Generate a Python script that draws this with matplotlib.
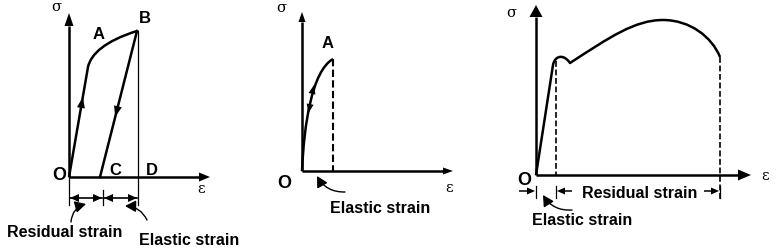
import numpy as np
import matplotlib
matplotlib.use('Agg')
import matplotlib.pyplot as plt
from matplotlib.path import Path
from matplotlib.patches import PathPatch, FancyArrowPatch

# Everything lives in picture pixels (x right, y down), three small schematics.

#######################################################

# Left: loading / unloading  O -> A -> B -> C
p1_origin = (69, 178)
p1_y_tip = (69, 14)
p1_x_tip = (210, 178)
p1_knee = [(88, 68), (91, 55), (105, 42), (137, 32)]   # bezier, knee -> B
p1_C = (100, 178)
p1_D_x = 138
p1_dim_y = 199
p1_dim_x = [69, 103, 138]

# Middle: purely elastic
p2_origin = (302, 172)
p2_y_tip = (302, 13)
p2_x_tip = (453, 172)
p2_curve = [(302, 172), (304, 125), (312, 72), (333, 60)]   # bezier, O -> A

# Right: full tensile curve
p3_origin = (536, 176)
p3_y_tip = (536, 6)
p3_x_tip = (751, 176)
p3_yield = (553, 66)
p3_bump = [(555, 56), (564, 55), (570, 64)]
p3_rise = [(610, 38), (635, 21), (663, 21)]
p3_fall = [(690, 21), (712, 38), (720, 58)]
p3_dim_y = 192
p3_dim_x = [536, 556, 720]

labels = [
    # text, x, baseline y, size
    ('A', 99, 39, 12), ('B', 145, 23, 12),
    ('C', 115, 175, 12), ('D', 152, 175, 12),
    ('O', 59, 180, 13),
    ('Residual strain', 65, 237, 11.5),
    ('Elastic strain', 189, 245, 11.5),
    ('A', 328, 48, 12), ('O', 284, 188, 13),
    ('Elastic strain', 380, 213, 11.5),
    ('O', 524, 185, 13),
    ('Residual strain', 640, 198, 11.5),
    ('Elastic strain', 582, 225, 11.5),
]
greek = [('σ', 56, 11), ('ε', 201, 193), ('σ', 281, 12), ('ε', 449, 192),
         ('σ', 511, 17), ('ε', 765, 180)]

#######################################################

fig = plt.figure(figsize=(7.77, 2.53), dpi=100)
ax = fig.add_axes([0, 0, 1, 1])
ax.set_xlim(0, 777)
ax.set_ylim(253, 0)
ax.axis('off')

LW = 1.8


def head(tip, frm, length=9, width=7):
    tip = np.array(tip, float)
    u = tip - np.array(frm, float)
    u = u / np.hypot(*u)
    p = np.array([-u[1], u[0]])
    base = tip - u * length
    tri = np.array([tip, base + p * width / 2, base - p * width / 2])
    ax.fill(tri[:, 0], tri[:, 1], color='k', lw=0)
    return base


def arrow_line(start, tip, length=11, width=9, lw=LW):
    base = head(tip, start, length, width)
    ax.plot([start[0], base[0]], [start[1], base[1]], color='k', lw=lw,
            solid_capstyle='butt')


def curve(verts, codes):
    ax.add_patch(PathPatch(Path(verts, codes), fill=False, lw=LW,
                           ec='k', joinstyle='round'))


def dim_arrow(x0, x1, y):
    ax.plot([x0, x1], [y, y], color='k', lw=1.2)
    head((x0, y), (x1, y), 9, 8)
    head((x1, y), (x0, y), 9, 8)


def leader(tail, tip, rad):
    ax.add_patch(FancyArrowPatch(tail, tip, connectionstyle=f'arc3,rad={rad}',
                                 arrowstyle='-|>,head_length=6.5,head_width=3.5',
                                 lw=1.0, color='k', shrinkA=0, shrinkB=0))


#######################################################

# ---- left panel
arrow_line(p1_origin, p1_y_tip, 13, 9)
arrow_line(p1_origin, p1_x_tip, 11, 9)
curve([p1_origin] + p1_knee, [Path.MOVETO, Path.LINETO] + [Path.CURVE4] * 3)
ax.plot([p1_knee[-1][0], p1_C[0]], [p1_knee[-1][1], p1_C[1]], color='k', lw=LW)
# direction arrows on the straight parts
t = (178 - 98) / (178 - 68)
head((69 + t * 19, 98), p1_origin, 11, 8)
t = (118 - 32) / (178 - 32)
head((137 - t * 37, 118), p1_knee[-1], 11, 8)
# extension lines and dimension arrows
ax.plot([p1_D_x, p1_D_x], [32, 206], color='k', lw=0.9)
ax.plot([69, 69], [178, 206], color='k', lw=0.9)
ax.plot([103, 103], [191, 206], color='k', lw=0.9)
dim_arrow(p1_dim_x[0] + 1, p1_dim_x[1] - 1, p1_dim_y)
dim_arrow(p1_dim_x[1] + 1, p1_dim_x[2] - 1, p1_dim_y)
leader((71, 223), (86, 205), -0.35)
leader((147, 221), (125, 207), 0.3)

# ---- middle panel
arrow_line(p2_origin, p2_y_tip, 10, 7)
arrow_line(p2_origin, p2_x_tip, 10, 7)
curve(p2_curve, [Path.MOVETO] + [Path.CURVE4] * 3)
ax.plot([333, 333], [60, 172], color='k', lw=1.5, ls=(0, (3.5, 1.6)))
head((314, 86), (311.5, 97), 9, 7)
head((308.5, 114), (310.5, 103), 9, 7)
leader((345, 193), (317, 177), -0.3)

# ---- right panel
arrow_line(p3_origin, p3_y_tip, 12, 13)
arrow_line(p3_origin, p3_x_tip, 13, 11)
curve([p3_origin, p3_yield] + p3_bump + p3_rise + p3_fall,
      [Path.MOVETO, Path.LINETO] + [Path.CURVE4] * 9)
ax.plot([556, 556], [62, 176], color='k', lw=1.2, ls=(0, (3.5, 1.6)))
ax.plot([720, 720], [58, 200], color='k', lw=1.2, ls=(0, (3.5, 1.6)))
for x in p3_dim_x:
    ax.plot([x, x], [187, 199], color='k', lw=0.9)
arrow_line((519, p3_dim_y), (535, p3_dim_y), 8, 7, lw=1.1)
arrow_line((572, p3_dim_y), (557, p3_dim_y), 8, 7, lw=1.1)
arrow_line((704, p3_dim_y), (719, p3_dim_y), 8, 7, lw=1.1)
leader((572, 211), (543, 196), -0.3)

# ---- text
for s, x, y, size in labels:
    ax.text(x, y, s, ha='center', va='baseline', fontsize=size,
            family='Liberation Sans', weight='bold')
for s, x, y in greek:
    ax.text(x, y, s, ha='center', va='baseline', fontsize=10.5,
            family='DejaVu Serif')

fig.savefig('out.png', dpi=100)
